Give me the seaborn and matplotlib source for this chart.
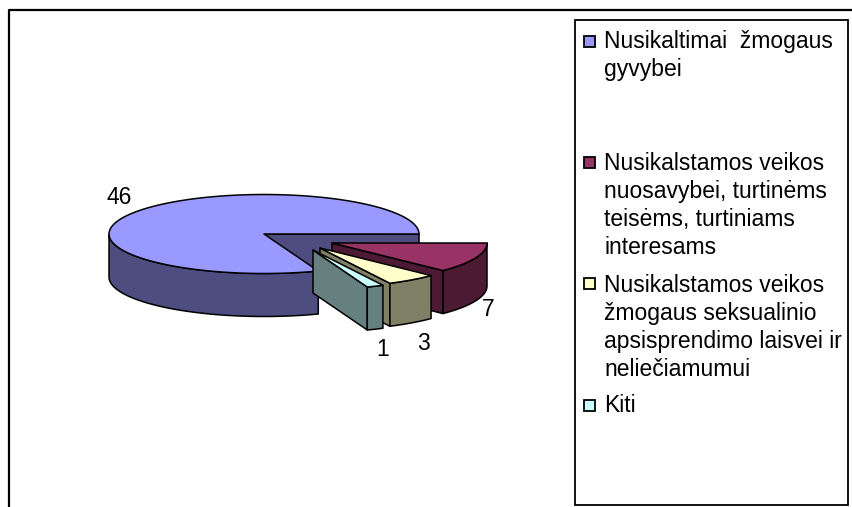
"""
Exploded 3D-look pie of offence counts, with the boxed legend on the right.
The perspective is faked: each slice is a flat ellipse wedge plus darker walls.
"""

import numpy as np
import matplotlib.pyplot as plt
from matplotlib.colors import to_rgb
from matplotlib.patches import Polygon, Rectangle
import seaborn as sns

# ── Data ──────────────────────────────────────────────────────────────────────

values = [46, 7, 3, 1]
slice_colours = ["#9999FF", "#993366", "#FFFFCC", "#CCFFFF"]
legend_labels = [
    "Nusikaltimai  žmogaus\ngyvybei",
    "Nusikalstamos veikos\nnuosavybei, turtinėms\nteisėms, turtiniams\ninteresams",
    "Nusikalstamos veikos\nžmogaus seksualinio\napsisprendimo laisvei ir\nneliečiamumui",
    "Kiti",
]

# ── Layout (pixels) ───────────────────────────────────────────────────────────

WIDTH, HEIGHT = 853, 507
CENTRE = (264, 234)
RX, RY, DEPTH = 155, 39.5, 43
START_ANGLE = 290.5  # the largest slice begins here and runs clockwise
explode = [(0, 0), (68, 9), (56, 14), (49, 16)]
label_pos = [(119, 197), (488, 309), (423, 344), (383, 350)]
legend_marker_y = [41.5, 162.5, 283.5, 405]
legend_baseline_y = [48, 170, 292, 412]

FONT = "Liberation Sans"
FONT_SIZE = 16.5
LINE_STEP = 28


def rim(cx, cy, angles):
    rad = np.radians(angles)
    return np.column_stack([cx + RX * np.cos(rad), cy - RY * np.sin(rad)])


def draw_slice(ax, cx, cy, a_start, a_end, colour):
    """Draw one wedge running clockwise from a_start down to a_end."""
    dark = tuple(c * 0.5 for c in to_rgb(colour))
    style = dict(edgecolor="black", linewidth=1.1, joinstyle="round")
    down = np.array([0, DEPTH])
    centre = np.array([cx, cy])

    # cut face at the clockwise end of the wedge
    end_pt = rim(cx, cy, [a_end])[0]
    ax.add_patch(Polygon(
        [centre, end_pt, end_pt + down, centre + down], facecolor=dark, **style
    ))

    # outer wall, only the part that faces the viewer
    angles = np.linspace(a_start, a_end, 240)
    front_angles = angles[angles >= 180] if a_start > 180 else angles
    front = rim(cx, cy, front_angles)
    ax.add_patch(Polygon(
        np.vstack([front, (front + down)[::-1]]), facecolor=dark, **style
    ))

    # top face
    ax.add_patch(Polygon(
        np.vstack([centre, rim(cx, cy, angles)]), facecolor=colour, **style
    ))


def draw_pie(ax):
    sweep = np.array(values) / sum(values) * 360
    a_start = START_ANGLE
    for sw, colour, (dx, dy) in zip(sweep, slice_colours, explode):
        draw_slice(ax, CENTRE[0] + dx, CENTRE[1] + dy, a_start, a_start - sw, colour)
        a_start -= sw

    for val, (x, y) in zip(values, label_pos):
        ax.text(x, y, str(val), ha="center", va="center",
                family=FONT, fontsize=FONT_SIZE, color="black")


def draw_legend(ax):
    ax.add_patch(Rectangle((575, 20), 273, 485, facecolor="white",
                           edgecolor="black", linewidth=1.3))
    for label, colour, my, by in zip(
        legend_labels, slice_colours, legend_marker_y, legend_baseline_y
    ):
        ax.add_patch(Rectangle((584.5, my - 5.5), 11, 11, facecolor=colour,
                               edgecolor="black", linewidth=1.3))
        for i, line in enumerate(label.split("\n")):
            ax.text(604.5, by + i * LINE_STEP, line, ha="left", va="baseline",
                    family=FONT, fontsize=FONT_SIZE, color="black")


# ── Figure ────────────────────────────────────────────────────────────────────

sns.set_theme(style="white")
fig, ax = plt.subplots(figsize=(WIDTH / 100, HEIGHT / 100), dpi=100)
fig.subplots_adjust(left=0, right=1, bottom=0, top=1)
ax.set_xlim(0, WIDTH)
ax.set_ylim(HEIGHT, 0)
ax.axis("off")

# chart frame: only its top and left sides fall inside the picture
ax.plot([9.5, 9.5, WIDTH], [HEIGHT, 9.5, 9.5], color="black", linewidth=1.6)

draw_pie(ax)
draw_legend(ax)

fig.savefig("out.png", dpi=100)
plt.close(fig)
